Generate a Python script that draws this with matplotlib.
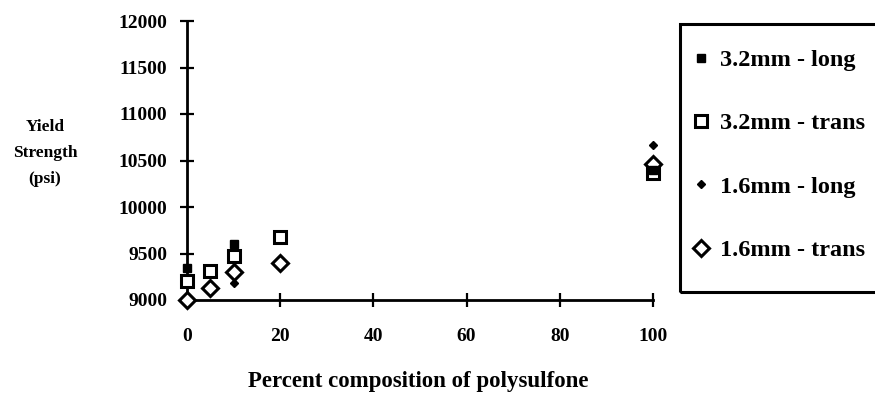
import matplotlib
matplotlib.use('Agg')
import matplotlib.pyplot as plt
from matplotlib.patches import Rectangle

# yield strength (psi) vs percent polysulfone
x_32_long = [0, 10, 100]
y_32_long = [9340, 9600, 10400]
x_32_trans = [0, 5, 10, 20, 100]
y_32_trans = [9200, 9310, 9475, 9675, 10370]
x_16_long = [10, 100]
y_16_long = [9180, 10665]
x_16_trans = [0, 5, 10, 20, 100]
y_16_trans = [9000, 9125, 9300, 9400, 10460]

xticks = [0, 20, 40, 60, 80, 100]
yticks = [9000, 9500, 10000, 10500, 11000, 11500, 12000]

plt.rcParams['font.family'] = ['Liberation Serif', 'DejaVu Serif']
plt.rcParams['font.weight'] = 'bold'

W, H = 875, 396
fig = plt.figure(figsize=(W / 100, H / 100), dpi=100)
ax = fig.add_axes([187 / W, 1 - 300 / H, 466 / W, 279 / H])

l1, = ax.plot(x_32_long, y_32_long, 's', ms=5.5, color='black', clip_on=False, zorder=4)
l2, = ax.plot(x_32_trans, y_32_trans, 's', ms=9, mfc='white', mec='black', mew=2.2, clip_on=False, zorder=3)
l3, = ax.plot(x_16_long, y_16_long, 'D', ms=4, color='black', clip_on=False, zorder=5)
l4, = ax.plot(x_16_trans, y_16_trans, 'D', ms=8, mfc='white', mec='black', mew=2.2, clip_on=False, zorder=3)

ax.set_xlim(0, 100)
ax.set_ylim(9000, 12000)
ax.set_xticks(xticks)
ax.set_yticks(yticks)
ax.set_yticklabels([str(v) for v in yticks])
for s in ['top', 'right']:
    ax.spines[s].set_visible(False)
for s in ['left', 'bottom']:
    ax.spines[s].set_linewidth(2)
ax.tick_params(direction='inout', length=10, width=1.6, labelsize=14)
ax.tick_params(axis='x', pad=15)
ax.tick_params(axis='y', pad=9)
ax.xaxis.get_major_ticks()[0].tick1line.set_visible(False)

fig.text(45 / W, 1 - 153 / H, 'Yield\nStrength\n(psi)', ha='center', va='center',
         fontsize=12.5, linespacing=1.85)
fig.text(418 / W, 1 - 381 / H, 'Percent composition of polysulfone', ha='center', va='center',
         fontsize=16.5)

# legend box
fig.patches.append(Rectangle((680 / W, 1 - 292 / H), 210 / W, 268 / H, transform=fig.transFigure,
                             fill=False, lw=2.2, ec='black'))
fig.legend([l1, l2, l3, l4], ['3.2mm - long', '3.2mm - trans', '1.6mm - long', '1.6mm - trans'],
           loc='upper left', bbox_to_anchor=(691 / W, 1 - 49 / H), frameon=False,
           prop={'size': 17.5, 'weight': 'bold'}, handlelength=0.8, handletextpad=0.4,
           labelspacing=1.7, borderpad=0, borderaxespad=0)

fig.savefig('out.png', dpi=100)
